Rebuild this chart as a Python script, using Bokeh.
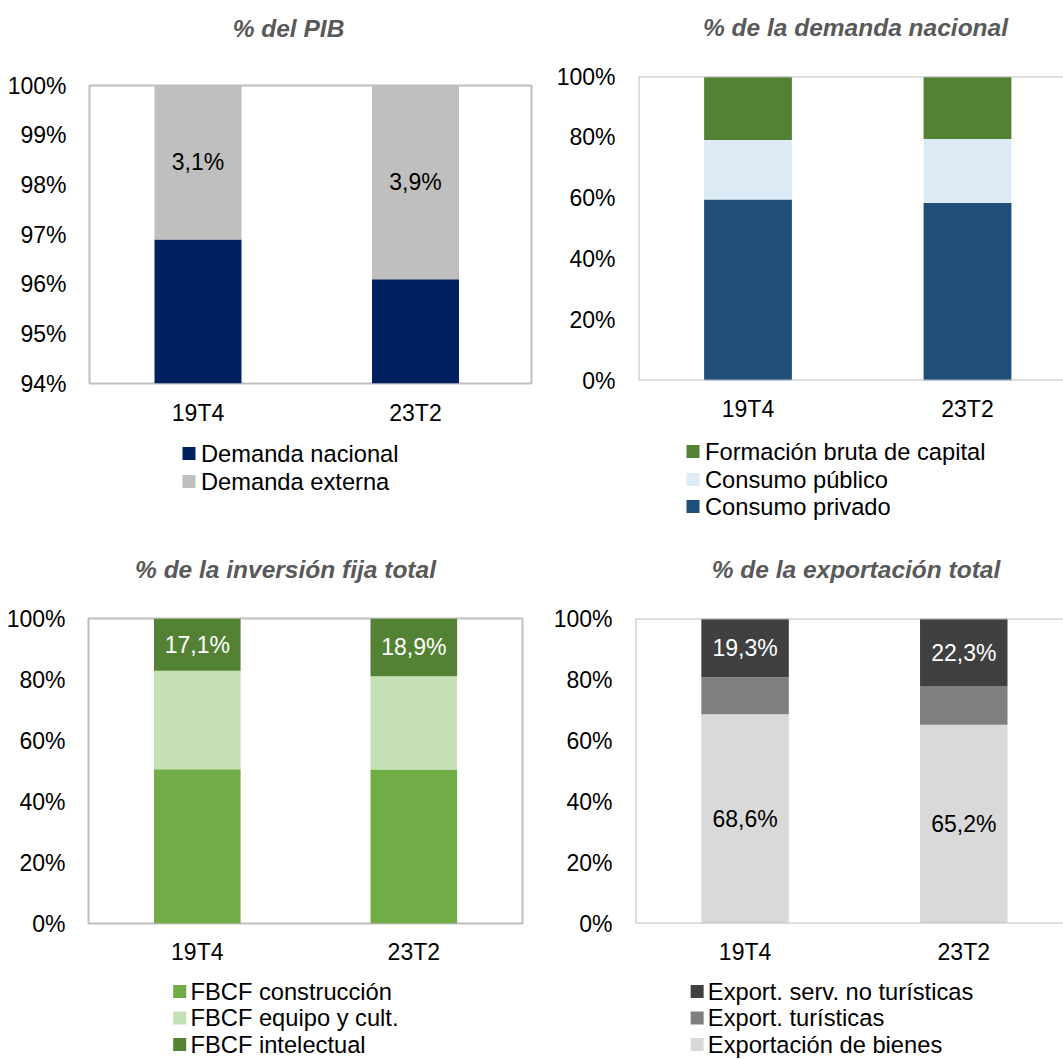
from bokeh.plotting import figure
from bokeh.models import (Range1d, FixedTicker, PrintfTickFormatter, Span, ColumnDataSource)
from bokeh.layouts import column, row
from bokeh.embed import file_html
from bokeh.resources import INLINE
from bokeh.core.properties import value

FONT = "Liberation Sans"

# ---------------- data ----------------
categories = ["19T4", "23T2"]

# % del PIB
pib_title = "% del PIB"
pib_series = ["Demanda nacional", "Demanda externa"]
pib_nacional = [96.9, 96.1]
pib_externa = [3.1, 3.9]
pib_colors = ["#002060", "#BFBFBF"]
pib_ticks = [94, 95, 96, 97, 98, 99, 100]

# % de la demanda nacional
dn_title = "% de la demanda nacional"
dn_series = ["Consumo privado", "Consumo público", "Formación bruta de capital"]
dn_privado = [59.5, 58.4]
dn_publico = [19.6, 21.0]
dn_fbc = [20.9, 20.6]
dn_colors = ["#1F4E79", "#DDEBF7", "#548235"]

# % de la inversión fija total
inv_title = "% de la inversión fija total"
inv_series = ["FBCF construcción", "FBCF equipo y cult.", "FBCF intelectual"]
inv_construccion = [50.6, 50.5]
inv_equipo = [32.3, 30.6]
inv_intelectual = [17.1, 18.9]
inv_colors = ["#70AD47", "#C5E0B4", "#548235"]

# % de la exportación total
exp_title = "% de la exportación total"
exp_series = ["Exportación de bienes", "Export. turísticas", "Export. serv. no turísticas"]
exp_bienes = [68.6, 65.2]
exp_turisticas = [12.1, 12.5]
exp_no_turisticas = [19.3, 22.3]
exp_colors = ["#D9D9D9", "#7F7F7F", "#404040"]

pct_ticks = [0, 20, 40, 60, 80, 100]

BORDER = "#BFBFBF"
TOP_PAD = 15
BOTTOM_PAD = 50


def fmt(v):
    return ("%.1f" % v).replace(".", ",") + "%"


def blank_fig(width, height, mb_left, mb_right):
    # the frame of this figure is aligned (by the column) with the chart frame below it,
    # so the x range is set to give one unit per pixel from the column's left edge
    f = figure(width=width, height=height, output_backend="svg", toolbar_location=None,
               x_range=Range1d(mb_left, width - mb_right), y_range=Range1d(0, height),
               x_axis_type=None, y_axis_type=None,
               min_border_left=0, min_border_right=0, min_border_top=0, min_border_bottom=0)
    f.outline_line_color = None
    f.background_fill_color = "white"
    f.border_fill_color = "white"
    for g in f.grid:
        g.visible = False
    return f


def make_header(title, width, height, mb_left, mb_right, cx, cy_from_top):
    h = blank_fig(width, height, mb_left, mb_right)
    h.text(x=[cx], y=[height - cy_from_top], text=[title], text_align="center",
           text_baseline="middle", text_font=value(FONT), text_font_size="24.5px",
           text_font_style="bold italic", text_color="#595959")
    return h


def make_footer(series, colors, order, width, height, mb_left, mb_right, sw_x, text_x, rows_y):
    f = blank_fig(width, height, mb_left, mb_right)
    ys = [height - y for y in rows_y]
    f.rect(x=[sw_x + 6.5] * len(order), y=ys, width=13, height=13,
           width_units="screen", height_units="screen",
           color=[colors[i] for i in order], line_color=None)
    f.text(x=[text_x] * len(order), y=ys, text=[series[i] for i in order],
           text_align="left", text_baseline="middle", text_font=value(FONT),
           text_font_size="23.7px", text_color="#000000")
    return f


def make_chart(series, values, colors, y_rng, ticks, labelled, width, frame_h,
               mb_left, mb_right, x_rng, x_standoff, full_outline):
    xs = list(range(len(categories)))
    data = {"x": xs}
    for name, vals in zip(series, values):
        data[name] = vals
    src = ColumnDataSource(data)

    p = figure(width=width, height=TOP_PAD + frame_h + BOTTOM_PAD, output_backend="svg",
               toolbar_location=None, x_range=Range1d(*x_rng), y_range=Range1d(*y_rng),
               min_border_left=mb_left, min_border_right=mb_right,
               min_border_top=TOP_PAD, min_border_bottom=BOTTOM_PAD)
    p.grid.visible = False
    p.background_fill_color = "white"
    p.border_fill_color = "white"
    if full_outline:
        p.outline_line_color = BORDER
        p.outline_line_width = 2
    else:
        p.outline_line_color = None
        p.add_layout(Span(location=y_rng[1], dimension="width", line_color=BORDER, line_width=2))
        p.add_layout(Span(location=y_rng[0], dimension="width", line_color=BORDER, line_width=2))
        p.add_layout(Span(location=x_rng[0], dimension="height", line_color=BORDER, line_width=2))

    p.vbar_stack(series, x="x", width=0.4, color=colors, line_color=None, source=src)

    # data labels
    for idx, txt_color in labelled:
        lx, ly, lt = [], [], []
        for j, xv in enumerate(xs):
            bottom = sum(values[k][j] for k in range(idx))
            top = bottom + values[idx][j]
            lo = max(bottom, y_rng[0])
            lx.append(xv)
            ly.append((lo + top) / 2)
            lt.append(fmt(values[idx][j]))
        p.text(x=lx, y=ly, text=lt, text_align="center", text_baseline="middle",
               text_font=value(FONT), text_font_size="23px", text_color=txt_color)

    xa = p.below[0]
    ya = p.left[0]
    ya.ticker = FixedTicker(ticks=ticks)
    ya.formatter = PrintfTickFormatter(format="%d%%")
    xa.ticker = FixedTicker(ticks=xs)
    xa.major_label_overrides = {x: c for x, c in zip(xs, categories)}
    for ax in (xa, ya):
        ax.axis_line_color = None
        ax.major_tick_line_color = None
        ax.minor_tick_line_color = None
        ax.major_tick_out = 0
        ax.major_tick_in = 0
        ax.major_label_text_font = FONT
        ax.major_label_text_font_size = "23px"
        ax.major_label_text_color = "#000000"
    ya.major_label_standoff = 23
    xa.major_label_standoff = x_standoff
    return p


ROW1_H = 535
ROW2_H = 1059 - ROW1_H
LEFT_W = 550
RIGHT_W = 1063 - LEFT_W

# ---- chart A: % del PIB
A_L, A_R = 89, LEFT_W - 531
hA_h = 85 - TOP_PAD
cA = make_chart(pib_series, [pib_nacional, pib_externa], pib_colors, (94, 100), pib_ticks,
                [(1, "#000000")], LEFT_W, 298, A_L, A_R, (-0.4989, 1.5333), 16, True)
hA = make_header(pib_title, LEFT_W, hA_h, A_L, A_R, 288, 27.5)
yA = hA_h + cA.height
fA = make_footer(pib_series, pib_colors, [0, 1], LEFT_W, ROW1_H - yA, A_L, A_R,
                 182, 200.5, [453 - yA, 481 - yA])

# ---- chart B: % de la demanda nacional
B_L, B_R = 638 - LEFT_W, 0
hB_h = 76 - TOP_PAD
cB = make_chart(dn_series, [dn_privado, dn_publico, dn_fbc], dn_colors, (0, 100), pct_ticks,
                [], RIGHT_W, 304, B_L, B_R, (-0.4989, 1.4374), 15, False)
hB = make_header(dn_title, RIGHT_W, hB_h, B_L, B_R, 855 - LEFT_W, 26.7)
yB = hB_h + cB.height
fB = make_footer(dn_series, dn_colors, [2, 1, 0], RIGHT_W, ROW1_H - yB, B_L, B_R,
                 686 - LEFT_W, 704.5 - LEFT_W, [451 - yB, 479 - yB, 506 - yB])

# ---- chart C: % de la inversión fija total
C_L, C_R = 88, LEFT_W - 522
hC_h = 618 - ROW1_H - TOP_PAD
cC = make_chart(inv_series, [inv_construccion, inv_equipo, inv_intelectual], inv_colors,
                (0, 100), pct_ticks, [(2, "#FFFFFF")], LEFT_W, 305, C_L, C_R,
                (-0.5025, 1.502), 15, True)
hC = make_header(inv_title, LEFT_W, hC_h, C_L, C_R, 285, 569 - ROW1_H)
yC = ROW1_H + hC_h + cC.height
fC = make_footer(inv_series, inv_colors, [0, 1, 2], LEFT_W, 1059 - yC, C_L, C_R,
                 172.7, 190, [991 - yC, 1017.5 - yC, 1044 - yC])

# ---- chart D: % de la exportación total
D_L, D_R = 634 - LEFT_W, 0
hD_h = 618 - ROW1_H - TOP_PAD
cD = make_chart(exp_series, [exp_bienes, exp_turisticas, exp_no_turisticas], exp_colors,
                (0, 100), pct_ticks, [(0, "#000000"), (2, "#FFFFFF")], RIGHT_W, 305,
                D_L, D_R, (-0.501, 1.456), 15, False)
hD = make_header(exp_title, RIGHT_W, hD_h, D_L, D_R, 855 - LEFT_W, 569 - ROW1_H)
yD = ROW1_H + hD_h + cD.height
fD = make_footer(exp_series, exp_colors, [2, 1, 0], RIGHT_W, 1059 - yD, D_L, D_R,
                 689.3 - LEFT_W, 706.5 - LEFT_W, [991 - yD, 1017.5 - yD, 1044 - yD])

layout = column(row(column(hA, cA, fA), column(hB, cB, fB)),
                row(column(hC, cC, fC), column(hD, cD, fD)))

open("out.html", "w").write(file_html(layout, INLINE))
